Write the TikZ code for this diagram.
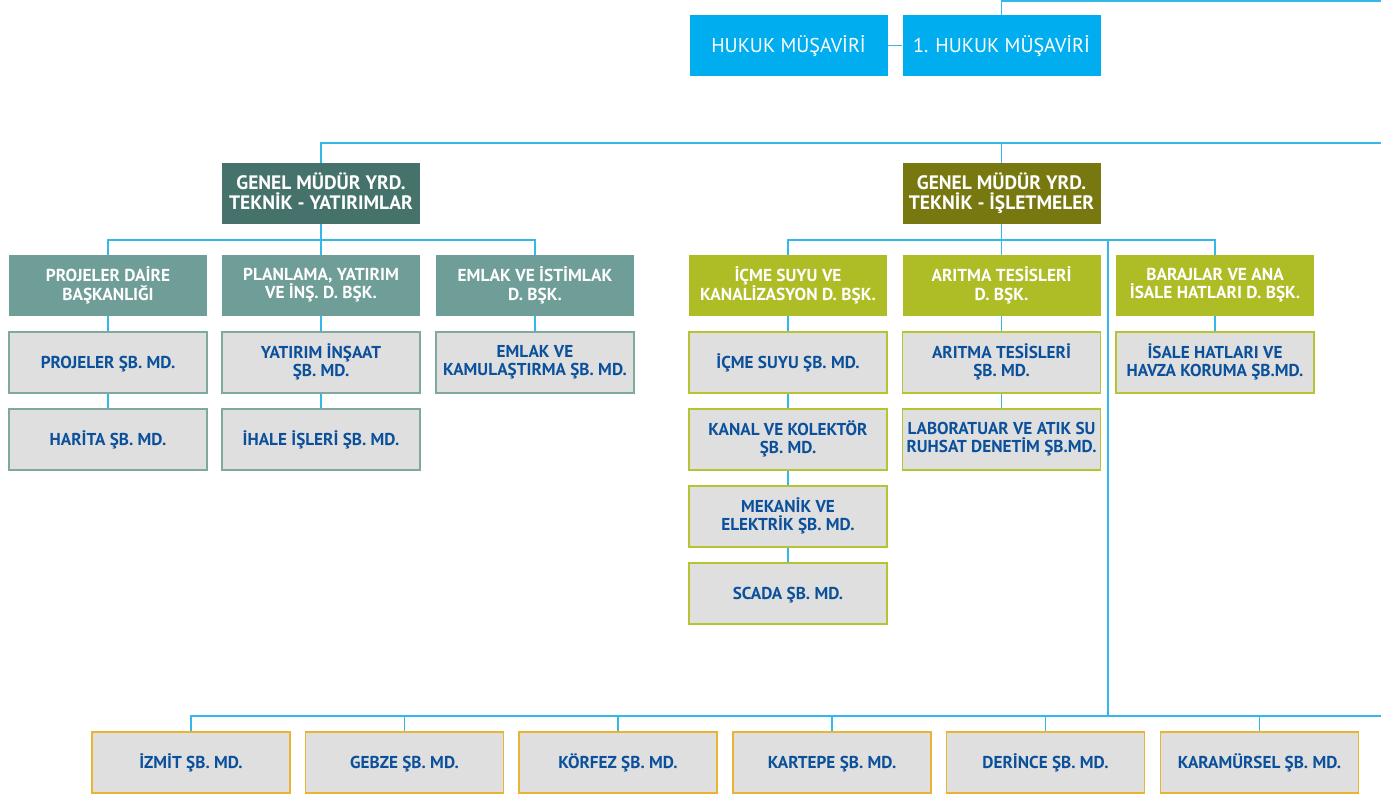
\documentclass[tikz,border=0pt]{standalone}
\usepackage{fontspec}
\setmainfont{PT Sans}
\definecolor{lnc}{RGB}{52,184,234}
\definecolor{cyanb}{RGB}{0,174,239}
\definecolor{darkteal}{RGB}{69,115,108}
\definecolor{olive}{RGB}{119,120,15}
\definecolor{lteal}{RGB}{111,157,151}
\definecolor{lime}{RGB}{174,188,38}
\definecolor{grayf}{RGB}{223,223,223}
\definecolor{tealbd}{RGB}{127,168,161}
\definecolor{limebd}{RGB}{182,195,50}
\definecolor{goldbd}{RGB}{232,180,50}
\definecolor{bluet}{RGB}{11,80,155}
\tikzset{
  box/.style={minimum width=148.5pt,minimum height=45.75pt,inner sep=0pt,align=center,
    font=\bfseries\fontsize{12.9}{13.2}\selectfont,
    execute at begin node={\rule{0pt}{0.95em}},
    execute at end node={\rule[-0.25em]{0pt}{0.25em}}},
  hukbox/.style={box,fill=cyanb,text=white,font=\fontsize{15}{16}\selectfont},
  gmyA/.style={box,fill=darkteal,text=white,font=\bfseries\fontsize{14.6}{15.2}\selectfont},
  gmyB/.style={box,fill=olive,text=white,font=\bfseries\fontsize{14.6}{15.2}\selectfont},
  dbA/.style={box,fill=lteal,text=white,font=\bfseries\fontsize{13}{14.2}\selectfont},
  dbB/.style={box,fill=lime,text=white,font=\bfseries\fontsize{13}{14.2}\selectfont},
  smA/.style={box,fill=grayf,draw=tealbd,line width=1.4pt,text=bluet},
  smB/.style={box,fill=grayf,draw=limebd,line width=1.4pt,text=bluet},
  smC/.style={box,fill=grayf,draw=goldbd,line width=1.4pt,text=bluet},
  conn/.style={draw=lnc,line width=1pt},
}
\begin{document}
\begin{tikzpicture}[x=0.75pt,y=-0.75pt]
\useasboundingbox (0,0) rectangle (1381,796);
% top
\node[hukbox] (hk1) at (788.5,45.5) {HUKUK MÜŞAVİRİ};
\node[hukbox] (hk2) at (1001.5,45.5) {1. HUKUK MÜŞAVİRİ};
\coordinate (e1) at (1381,1);
\coordinate (e2) at (1381,143);
\coordinate (e3) at (1381,716);
% GMY
\node[gmyA] (g1) at (321,193.5) {GENEL MÜDÜR YRD.\\TEKNİK - YATIRIMLAR};
\node[gmyB] (g2) at (1001.5,193.5) {GENEL MÜDÜR YRD.\\TEKNİK - İŞLETMELER};
% left D.BŞK
\node[dbA] (p1) at (108,285.5) {PROJELER DAİRE\\BAŞKANLIĞI};
\node[dbA] (p2) at (321,285.5) {PLANLAMA, YATIRIM\\VE İNŞ. D. BŞK.};
\node[dbA] (p3) at (535,285.5) {EMLAK VE İSTİMLAK\\D. BŞK.};
\node[smA] (p1a) at (108,362.5) {PROJELER ŞB. MD.};
\node[smA] (p1b) at (108,439.5) {HARİTA ŞB. MD.};
\node[smA] (p2a) at (321,362.5) {YATIRIM İNŞAAT\\ŞB. MD.};
\node[smA] (p2b) at (321,439.5) {İHALE İŞLERİ ŞB. MD.};
\node[smA] (p3a) at (535,362.5) {EMLAK VE\\KAMULAŞTIRMA ŞB. MD.};
% right D.BŞK
\node[dbB] (a1) at (788,285.5) {İÇME SUYU VE\\KANALİZASYON D. BŞK.};
\node[dbB] (a2) at (1001.5,285.5) {ARITMA TESİSLERİ\\D. BŞK.};
\node[dbB] (a3) at (1215,285.5) {BARAJLAR VE ANA\\İSALE HATLARI D. BŞK.};
\node[smB] (a1a) at (788,362.5) {İÇME SUYU ŞB. MD.};
\node[smB] (a1b) at (788,439.5) {KANAL VE KOLEKTÖR\\ŞB. MD.};
\node[smB] (a1c) at (788,516.5) {MEKANİK VE\\ELEKTRİK ŞB. MD.};
\node[smB] (a1d) at (788,593.5) {SCADA ŞB. MD.};
\node[smB] (a2a) at (1001.5,362.5) {ARITMA TESİSLERİ\\ŞB. MD.};
\node[smB] (a2b) at (1001.5,439.5) {LABORATUAR VE ATIK SU\\RUHSAT DENETİM ŞB.MD.};
\node[smB] (a3a) at (1215,362.5) {İSALE HATLARI VE\\HAVZA KORUMA ŞB.MD.};
% bottom
\node[smC] (b1) at (191,762.5) {İZMİT ŞB. MD.};
\node[smC] (b2) at (404.5,762.5) {GEBZE ŞB. MD.};
\node[smC] (b3) at (618,762.5) {KÖRFEZ ŞB. MD.};
\node[smC] (b4) at (832,762.5) {KARTEPE ŞB. MD.};
\node[smC] (b5) at (1045.5,762.5) {DERİNCE ŞB. MD.};
\node[smC] (b6) at (1259.5,762.5) {KARAMÜRSEL ŞB. MD.};
\coordinate (busL) at (321,240);
\coordinate (busR) at (1001.5,240);
\coordinate (jn) at (1108,240);
% connectors
\draw[conn] (hk1) -- (hk2);
\draw[conn] (hk2.north) |- (e1);
\draw[conn] (g1.north) |- (e2);
\draw[conn] (g2.north) -- (g2.north |- e2);
\draw[conn] (g1.south) -- (p2.north);
\draw[conn] (p1.north) |- (busL) -| (p3.north);
\draw[conn] (p1.south) -- (p1a.north);
\draw[conn] (p1a.south) -- (p1b.north);
\draw[conn] (p2.south) -- (p2a.north);
\draw[conn] (p2a.south) -- (p2b.north);
\draw[conn] (p3.south) -- (p3a.north);
\draw[conn] (g2.south) -- (a2.north);
\draw[conn] (a1.north) |- (busR) -| (a3.north);
\draw[conn] (a1.south) -- (a1a.north);
\draw[conn] (a1a.south) -- (a1b.north);
\draw[conn] (a1b.south) -- (a1c.north);
\draw[conn] (a1c.south) -- (a1d.north);
\draw[conn] (a2.south) -- (a2a.north);
\draw[conn] (a2a.south) -- (a2b.north);
\draw[conn] (a3.south) -- (a3a.north);
\draw[conn] (jn) -- (jn |- e3);
\draw[conn] (b1.north) |- (e3);
\foreach \b in {b2,b3,b4,b5,b6} \draw[conn] (\b.north) -- (\b.north |- e3);
\end{tikzpicture}
\end{document}
